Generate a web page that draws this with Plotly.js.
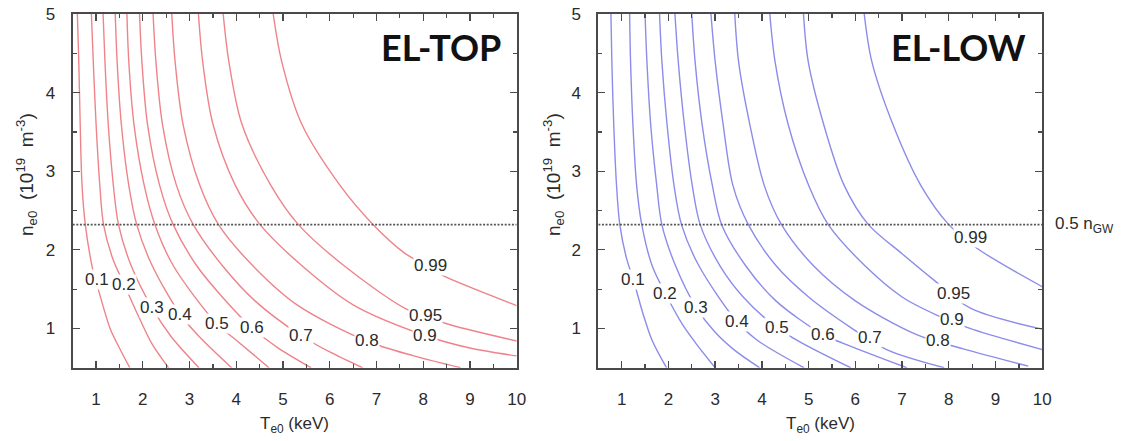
<!DOCTYPE html>
<html>
<head>
<meta charset="utf-8">
<script src="https://cdn.plot.ly/plotly-3.0.1.min.js"></script>
<style>
  html, body { margin: 0; padding: 0; background: #ffffff; }
  #chart { width: 1147px; height: 441px; }
</style>
</head>
<body>
<div id="chart"></div>
<script>
// Contour levels (fraction) shared by both panels
const levels = [0.1, 0.2, 0.3, 0.4, 0.5, 0.6, 0.7, 0.8, 0.9, 0.95, 0.99];

// Half the Greenwald density limit, 10^19 m^-3
const halfGreenwald = 2.32;

// Axis ticks
const tempTicks = [1, 2, 3, 4, 5, 6, 7, 8, 9, 10];
const densTicks = [1, 2, 3, 4, 5];

// EL-TOP: central temperature T_e0 (keV) along each contour
const topT = [
  [0.60, 0.63, 0.66, 0.70, 0.77, 0.94, 1.05, 1.30, 1.50, 1.72],
  [0.90, 0.94, 1.00, 1.08, 1.16, 1.35, 1.60, 1.95, 2.20, 2.55],
  [1.15, 1.19, 1.26, 1.37, 1.48, 1.75, 2.20, 2.60, 3.20],
  [1.41, 1.45, 1.54, 1.70, 1.87, 2.20, 2.80, 3.20, 3.90],
  [1.66, 1.70, 1.81, 2.03, 2.26, 2.65, 3.58, 4.00, 4.70],
  [1.93, 1.98, 2.10, 2.36, 2.65, 3.15, 3.70, 4.33, 4.90, 5.60],
  [2.22, 2.28, 2.42, 2.72, 3.08, 3.70, 4.40, 5.38, 6.00, 6.70],
  [2.62, 2.69, 2.86, 3.22, 3.62, 4.35, 5.30, 6.79, 7.80, 8.80],
  [3.19, 3.28, 3.50, 3.98, 4.51, 5.40, 6.50, 8.04, 9.00, 10.0],
  [3.72, 3.84, 4.12, 4.74, 5.33, 6.30, 7.61, 8.04, 8.47, 10.0],
  [4.79, 4.97, 5.40, 6.22, 6.93, 7.61, 8.15, 8.39, 10.0]
];
// EL-TOP: central density n_e0 (10^19 m^-3) along each contour
const topN = [
  [5, 4.4, 3.6, 2.82, 2.32, 1.72, 1.49, 1.00, 0.75, 0.50],
  [5, 4.4, 3.6, 2.82, 2.32, 1.90, 1.56, 1.10, 0.80, 0.50],
  [5, 4.4, 3.6, 2.82, 2.32, 1.80, 1.26, 0.90, 0.50],
  [5, 4.4, 3.6, 2.82, 2.32, 1.80, 1.18, 0.90, 0.50],
  [5, 4.4, 3.6, 2.82, 2.32, 1.80, 1.06, 0.85, 0.50],
  [5, 4.4, 3.6, 2.82, 2.32, 1.80, 1.40, 1.01, 0.75, 0.50],
  [5, 4.4, 3.6, 2.82, 2.32, 1.80, 1.35, 0.91, 0.70, 0.50],
  [5, 4.4, 3.6, 2.82, 2.32, 1.80, 1.30, 0.84, 0.65, 0.50],
  [5, 4.4, 3.6, 2.82, 2.32, 1.80, 1.30, 0.91, 0.75, 0.65],
  [5, 4.4, 3.6, 2.82, 2.32, 1.80, 1.256, 1.17, 1.065, 0.84],
  [5, 4.4, 3.6, 2.82, 2.32, 1.955, 1.77, 1.68, 1.29]
];

// EL-LOW: central temperature T_e0 (keV) along each contour
const lowT = [
  [0.77, 0.79, 0.83, 0.89, 0.96, 1.10, 1.25, 1.45, 1.65, 1.96],
  [1.17, 1.19, 1.24, 1.32, 1.43, 1.65, 1.93, 2.30, 2.60, 3.00],
  [1.50, 1.54, 1.62, 1.75, 1.86, 2.15, 2.60, 3.00, 3.40, 3.95],
  [1.81, 1.86, 1.97, 2.12, 2.28, 2.65, 3.46, 3.90, 4.90],
  [2.14, 2.21, 2.34, 2.51, 2.68, 3.10, 3.60, 4.32, 4.90, 5.90],
  [2.50, 2.57, 2.72, 2.94, 3.14, 3.65, 4.30, 5.31, 5.74, 7.10],
  [2.91, 3.00, 3.17, 3.38, 3.71, 4.30, 5.00, 5.88, 6.67, 7.90],
  [3.42, 3.50, 3.74, 4.05, 4.42, 5.10, 6.00, 7.31, 8.31, 9.70],
  [4.17, 4.28, 4.56, 5.00, 5.42, 6.20, 7.00, 7.74, 8.45, 10.0],
  [4.89, 4.99, 5.32, 5.76, 6.28, 7.00, 7.67, 8.45, 10.0],
  [6.19, 6.35, 6.80, 7.40, 8.00, 8.60, 10.0]
];
// EL-LOW: central density n_e0 (10^19 m^-3) along each contour
const lowN = [
  [5, 4.4, 3.6, 2.82, 2.32, 1.90, 1.62, 1.20, 0.85, 0.50],
  [5, 4.4, 3.6, 2.82, 2.32, 1.80, 1.45, 1.05, 0.80, 0.50],
  [5, 4.4, 3.6, 2.82, 2.32, 1.80, 1.26, 0.95, 0.73, 0.50],
  [5, 4.4, 3.6, 2.82, 2.32, 1.80, 1.09, 0.85, 0.50],
  [5, 4.4, 3.6, 2.82, 2.32, 1.80, 1.40, 1.01, 0.80, 0.50],
  [5, 4.4, 3.6, 2.82, 2.32, 1.80, 1.35, 0.92, 0.81, 0.50],
  [5, 4.4, 3.6, 2.82, 2.32, 1.80, 1.40, 1.02, 0.73, 0.50],
  [5, 4.4, 3.6, 2.82, 2.32, 1.80, 1.35, 0.92, 0.74, 0.52],
  [5, 4.4, 3.6, 2.82, 2.32, 1.80, 1.40, 1.17, 1.00, 0.73],
  [5, 4.4, 3.6, 2.82, 2.32, 1.95, 1.62, 1.26, 0.99],
  [5, 4.4, 3.6, 2.82, 2.32, 2.02, 1.53]
];

// Where each contour carries its level label (T, n)
const topLabelT = [1.01, 1.60, 2.20, 2.80, 3.58, 4.33, 5.38, 6.79, 8.04, 8.04, 8.15];
const topLabelN = [1.62, 1.56, 1.26, 1.18, 1.06, 1.01, 0.91, 0.84, 0.91, 1.17, 1.80];
const lowLabelT = [1.25, 1.93, 2.60, 3.46, 4.32, 5.31, 6.31, 7.77, 8.06, 8.10, 8.47];
const lowLabelN = [1.62, 1.45, 1.26, 1.09, 1.01, 0.92, 0.88, 0.84, 1.11, 1.45, 2.16];

// ---- styling ----
const W = 1147, H = 441;
const textFont = 'Liberation Sans, Arial, Helvetica, sans-serif';
const textColor = '#2b2b2b';
const frameColor = '#4a4a4a';
const topColor = 'rgb(238,132,138)';
const lowColor = 'rgb(140,140,234)';

const plotTop = 14, plotBottom = 367.7;
const leftX = [72.7, 516.7], rightX = [598.3, 1042.3];
const yDomain = [1 - plotBottom / H, 1 - plotTop / H];

function contourTraces(Ts, Ns, color, xa, ya) {
  return Ts.map((t, i) => ({
    type: 'scatter', mode: 'lines', x: t, y: Ns[i],
    xaxis: xa, yaxis: ya,
    name: String(levels[i]),
    line: { color: color, width: 1.4, shape: 'spline', smoothing: 0.9 },
    hoverinfo: 'skip', showlegend: false
  }));
}

function xAxis(px, anchor) {
  return {
    domain: [px[0] / W, px[1] / W], anchor: anchor,
    range: [0.5, 10], tickvals: tempTicks, ticktext: tempTicks.map(String),
    ticks: 'inside', ticklen: 7, tickwidth: 1.3, tickcolor: frameColor,
    showline: true, linecolor: frameColor, linewidth: 2, mirror: 'ticks',
    minor: { dtick: 0.5, tick0: 0.5, ticks: 'inside', ticklen: 4, tickwidth: 1.2, tickcolor: frameColor, showgrid: false },
    showgrid: false, zeroline: false, fixedrange: true,
    tickfont: { family: textFont, size: 17, color: textColor },
    ticklabelstandoff: 15
  };
}
function yAxis(anchor) {
  return {
    domain: yDomain, anchor: anchor,
    range: [0.5, 5], tickvals: densTicks, ticktext: densTicks.map(String),
    ticks: 'inside', ticklen: 7, tickwidth: 1.3, tickcolor: frameColor,
    showline: true, linecolor: frameColor, linewidth: 2, mirror: 'ticks',
    minor: { dtick: 0.5, tick0: 0.5, ticks: 'inside', ticklen: 4, tickwidth: 1.2, tickcolor: frameColor, showgrid: false },
    showgrid: false, zeroline: false, fixedrange: true,
    tickfont: { family: textFont, size: 17, color: textColor },
    ticklabelstandoff: 12
  };
}

function levelLabels(Ts, Ns, xr, yr) {
  return levels.map((lv, i) => ({
    xref: xr, yref: yr, x: Ts[i], y: Ns[i], text: String(lv),
    showarrow: false, bgcolor: '#ffffff', borderpad: 0,
    xanchor: 'center', yanchor: 'middle',
    font: { family: textFont, size: 17, color: textColor }
  }));
}

function guideLine(xr, yr) {
  return {
    type: 'line', xref: xr, yref: yr, x0: 0.5, x1: 10, y0: halfGreenwald, y1: halfGreenwald,
    line: { color: '#555555', width: 1.6, dash: '2px,1.6px' }, layer: 'above'
  };
}

const nTitle = 'n<sub>e0</sub>&nbsp;&nbsp;(10<sup>19</sup>&nbsp;&nbsp;m<sup>-3</sup>)';
const tTitle = 'T<sub>e0</sub> (keV)';

const annotations = [
  ...levelLabels(topLabelT, topLabelN, 'x', 'y'),
  ...levelLabels(lowLabelT, lowLabelN, 'x2', 'y2'),
  { xref: 'paper', yref: 'paper', x: 503 / W, y: 1 - 47 / H, xanchor: 'right', yanchor: 'middle',
    text: '<b>EL-TOP</b>', showarrow: false, font: { family: 'Lato, Open Sans, sans-serif', size: 36, color: '#111111' } },
  { xref: 'paper', yref: 'paper', x: 1028 / W, y: 1 - 47 / H, xanchor: 'right', yanchor: 'middle',
    text: '<b>EL-LOW</b>', showarrow: false, font: { family: 'Lato, Open Sans, sans-serif', size: 36, color: '#111111' } },
  { xref: 'paper', yref: 'paper', x: 27 / W, y: 1 - 175 / H, textangle: -90, xanchor: 'center', yanchor: 'middle',
    text: nTitle, showarrow: false, font: { family: textFont, size: 19, color: textColor } },
  { xref: 'paper', yref: 'paper', x: 554 / W, y: 1 - 175 / H, textangle: -90, xanchor: 'center', yanchor: 'middle',
    text: nTitle, showarrow: false, font: { family: textFont, size: 19, color: textColor } },
  { xref: 'paper', yref: 'paper', x: (leftX[0] + leftX[1]) / 2 / W, y: 1 - 425 / H, xanchor: 'center', yanchor: 'middle',
    text: tTitle, showarrow: false, font: { family: textFont, size: 17, color: textColor } },
  { xref: 'paper', yref: 'paper', x: (rightX[0] + rightX[1]) / 2 / W, y: 1 - 425 / H, xanchor: 'center', yanchor: 'middle',
    text: tTitle, showarrow: false, font: { family: textFont, size: 17, color: textColor } },
  { xref: 'paper', yref: 'y2', x: 1053 / W, y: halfGreenwald, xanchor: 'left', yanchor: 'middle',
    text: '0.5 n<sub>GW</sub>', showarrow: false, font: { family: textFont, size: 17, color: textColor } }
];

const data = [
  ...contourTraces(topT, topN, topColor, 'x', 'y'),
  ...contourTraces(lowT, lowN, lowColor, 'x2', 'y2')
];

const layout = {
  width: W, height: H,
  margin: { l: 0, r: 0, t: 0, b: 0 },
  paper_bgcolor: '#ffffff', plot_bgcolor: '#ffffff',
  showlegend: false,
  xaxis: xAxis(leftX, 'y'),
  yaxis: yAxis('x'),
  xaxis2: xAxis(rightX, 'y2'),
  yaxis2: yAxis('x2'),
  shapes: [guideLine('x', 'y'), guideLine('x2', 'y2')],
  annotations: annotations
};

Plotly.newPlot('chart', data, layout, { displayModeBar: false, staticPlot: true });
</script>
</body>
</html>
